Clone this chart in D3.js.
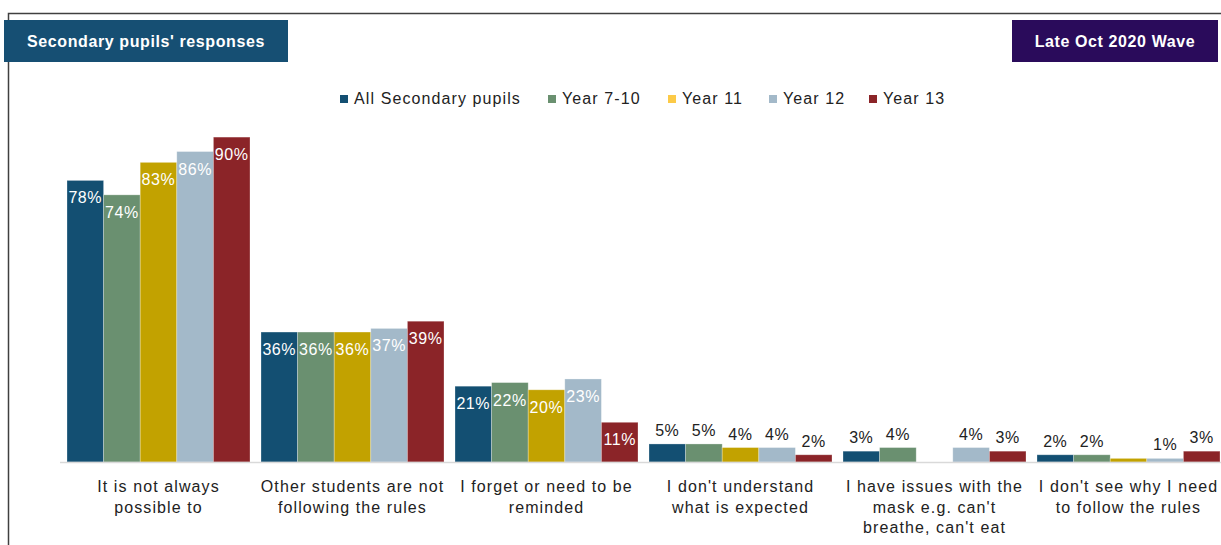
<!DOCTYPE html>
<html>
<head>
<meta charset="utf-8">
<script src="https://cdn.jsdelivr.net/npm/d3@7"></script>
<style>
  html, body { margin: 0; padding: 0; background: #fff; }
  svg { display: block; font-family: "Liberation Sans", Arial, sans-serif; }
</style>
</head>
<body>
<svg id="chart" width="1221" height="545"></svg>
<script>
// ---- data ----
const categories = [
  ["It is not always", "possible to"],
  ["Other students are not", "following the rules"],
  ["I forget or need to be", "reminded"],
  ["I don't understand", "what is expected"],
  ["I have issues with the", "mask e.g. can't", "breathe, can't eat"],
  ["I don't see why I need", "to follow the rules"]
];
const seriesNames = ["All Secondary pupils", "Year 7-10", "Year 11", "Year 12", "Year 13"];
const allSecondary = [78, 36, 21, 5, 3, 2];
const year7to10    = [74, 36, 22, 5, 4, 2];
const year11       = [83, 36, 20, 4, null, 1];
const year12       = [86, 37, 23, 4, 4, 1];
const year13       = [90, 39, 11, 2, 3, 3];
const unlabelled   = ["Year 11|5"]; // points shown without a data label
const titleLeft  = "Secondary pupils' responses";
const titleRight = "Late Oct 2020 Wave";

const barColors    = ["#134f72", "#6a9070", "#c2a200", "#a3b9c9", "#8b2428"];
const legendColors = ["#134f72", "#6a9070", "#fcca47", "#a3b9c9", "#8b2428"];

const seriesValues = [allSecondary, year7to10, year11, year12, year13];

// ---- layout ----
const svg = d3.select("#chart");
const W = 1221, H = 545;
const baseY = 462, topY = 101;

// frame
svg.append("path")
  .attr("d", `M8.5,${H} L8.5,13.5 L${W},13.5`)
  .attr("fill", "none").attr("stroke", "#404040").attr("stroke-width", 1.5);

// title boxes
svg.append("rect").attr("x", 4).attr("y", 20).attr("width", 284).attr("height", 42).attr("fill", "#164f73");
svg.append("text").attr("x", 146).attr("y", 46.5).attr("text-anchor", "middle")
  .attr("fill", "#fff").attr("font-size", 16).attr("font-weight", "bold")
  .attr("letter-spacing", 0.6).text(titleLeft);

svg.append("rect").attr("x", 1012).attr("y", 20).attr("width", 206).attr("height", 42).attr("fill", "#2a0b5b");
svg.append("text").attr("x", 1115).attr("y", 46.5).attr("text-anchor", "middle")
  .attr("fill", "#fff").attr("font-size", 16).attr("font-weight", "bold")
  .attr("letter-spacing", 0.6).text(titleRight);

// legend
const legendX = [340, 548, 668, 769, 869];
const lg = svg.append("g");
seriesNames.forEach((name, i) => {
  const g = lg.append("g").attr("transform", `translate(${legendX[i]},0)`);
  g.append("rect").attr("x", 0).attr("y", 95).attr("width", 8).attr("height", 8).attr("fill", legendColors[i]);
  g.append("text").attr("x", 14).attr("y", 104).attr("font-size", 16)
    .attr("letter-spacing", 1.1).attr("fill", "#222").text(name);
});

// scales
const catIdx = categories.map((_, i) => i);
const x0 = d3.scaleBand().domain(catIdx).range([61.5, 1225.5])
  .paddingInner(11 / 194).paddingOuter(5.5 / 194);
const x1 = d3.scaleBand().domain(seriesNames).range([0, x0.bandwidth()]).padding(0);
const y = d3.scaleLinear().domain([0, 100]).range([baseY, topY]);

// bars
const groups = svg.append("g").selectAll("g").data(catIdx).join("g")
  .attr("transform", d => `translate(${x0(d)},0)`);

const points = c => seriesNames.map((s, si) => ({ s, si, c, v: seriesValues[si][c] }))
  .filter(p => p.v != null);

groups.selectAll("rect").data(points).join("rect")
  .attr("x", p => x1(p.s))
  .attr("y", p => y(p.v))
  .attr("width", x1.bandwidth())
  .attr("height", p => baseY - y(p.v))
  .attr("fill", p => barColors[p.si])
  .attr("stroke", "#ffffff").attr("stroke-opacity", 0.35).attr("stroke-width", 0.8);

// baseline
svg.append("line").attr("x1", 60).attr("x2", W).attr("y1", baseY + 0.5).attr("y2", baseY + 0.5)
  .attr("stroke", "#d9d9d9").attr("stroke-width", 1.5);

// data labels
groups.selectAll("text.lbl")
  .data(c => points(c).filter(p => !unlabelled.includes(`${p.s}|${p.c}`)))
  .join("text").attr("class", "lbl")
  .attr("x", p => x1(p.s) + x1.bandwidth() / 2)
  .attr("y", p => p.v >= 10 ? y(p.v) + 23 : y(p.v) - 8)
  .attr("text-anchor", "middle")
  .attr("font-size", 16)
  .attr("letter-spacing", 0.6)
  .attr("fill", p => p.v >= 10 ? "#ffffff" : "#222")
  .text(p => `${p.v}%`);

// category labels
groups.append("text")
  .attr("text-anchor", "middle")
  .attr("font-size", 16)
  .attr("letter-spacing", 1.1)
  .attr("fill", "#222")
  .selectAll("tspan").data(c => categories[c]).join("tspan")
  .attr("x", x0.bandwidth() / 2)
  .attr("y", (d, i) => 492 + i * 20.5)
  .text(d => d);
</script>
</body>
</html>
